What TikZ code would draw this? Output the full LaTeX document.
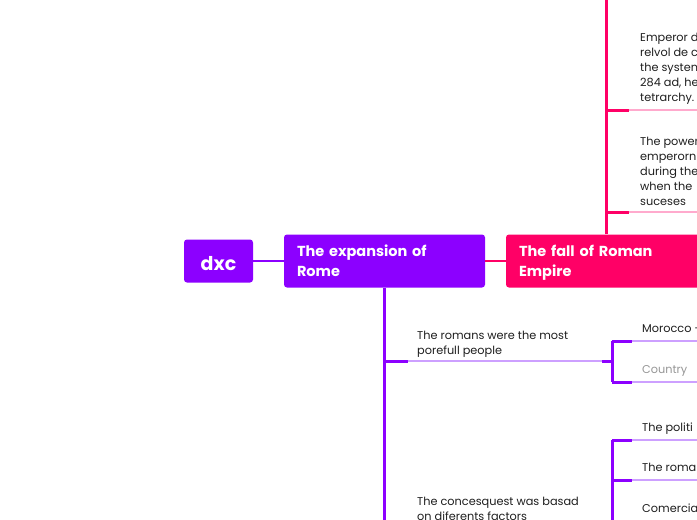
\documentclass[tikz,border=0pt]{standalone}
\usepackage{fontspec}
\setmainfont{Poppins}
\usetikzlibrary{positioning}
\definecolor{mapviolet}{RGB}{140,0,255}
\definecolor{mappink}{RGB}{255,0,102}
\definecolor{paleviolet}{RGB}{205,160,255}
\definecolor{palepink}{RGB}{255,170,205}
\definecolor{inkgrey}{RGB}{30,30,30}
\definecolor{hintgrey}{RGB}{150,150,150}
\tikzset{
  rootbox/.style={fill=mapviolet, rounded corners=3pt, text=white, inner sep=0pt,
    minimum width=69pt, minimum height=43pt, text height=18pt, text depth=0pt,
    font=\fontsize{19}{22}\selectfont\bfseries},
  topicbox/.style={rounded corners=3pt, text=white, text width=175pt, align=left,
    inner xsep=13pt, inner ysep=0pt, minimum height=53pt,
    font=\fontsize{14.5}{20}\selectfont\bfseries},
  notetext/.style={anchor=south west, inner sep=0pt, text=inkgrey, align=left,
    font=\fontsize{11.3}{15}\selectfont},
  stem/.style={line width=3pt},
  twig/.style={line width=1.2pt},
}

\begin{document}
\begin{tikzpicture}[x=1pt, y=-1pt]
  \clip (0,0) rectangle (697,520);

  \node[rootbox] (dxc) at (218.5,261) {dxc};
  \node[topicbox, fill=mapviolet] (rome) at (384.5,261) {The expansion of\\Rome};
  \node[topicbox, fill=mappink] (fall) at (606.5,261)
    {The fall of Roman\\\raisebox{0pt}[\height][0pt]{Empire}};
  \draw[mapviolet, line width=2pt] (dxc) -- (rome);
  \draw[mappink, line width=2pt] (rome) -- (fall);

  % the fall: branches going up
  \coordinate (falltop) at (606.5,-5);
  \coordinate (f1) at (606.5,110);
  \coordinate (f2) at (606.5,212);
  \draw[mappink, stem] (fall.north) -- (falltop);
  \draw[mappink, stem] (f1) -- ++(22,0) coordinate (f1e);
  \draw[mappink, stem] (f2) -- ++(22,0) coordinate (f2e);
  \draw[palepink, twig] (f1e) -- ++(90,0);
  \draw[palepink, twig] (f2e) -- ++(90,0);
  \node[notetext] (emperor) at (640,106.5)
    {Emperor d\\relvol de c\\the systen\\284 ad, he\\tetrarchy.\strut};
  \node[notetext] (power) at (640,210)
    {The power\\emperornl\\during the\\when the\\suceses\strut};

  % the expansion: branches going down
  \coordinate (r1) at (384.5,361);
  \coordinate (r2) at (384.5,527);
  \draw[mapviolet, stem] (rome.south) -- (r2);
  \draw[mapviolet, stem] (r1) -- ++(23,0) coordinate (r1e);
  \draw[paleviolet, twig] (r1e) -- (602,361) coordinate (k1);
  \draw[mapviolet, stem] (k1) -- ++(10,0) coordinate (k1b);
  \node[notetext] (romans) at (417,359.5) {The romans were the most\\porefull people\strut};
  \node[notetext] (factors) at (417,525.5) {The concesquest was basad\\on diferents factors\strut};

  % first bracket
  \coordinate (m1) at (612,341);
  \coordinate (m2) at (612,382);
  \draw[mapviolet, stem] (m1) -- (m2);
  \draw[mapviolet, stem] (m1) -- ++(20,0) coordinate (m1e);
  \draw[mapviolet, stem] (m2) -- ++(20,0) coordinate (m2e);
  \draw[paleviolet, twig] (m1e) -- ++(70,0);
  \draw[paleviolet, twig] (m2e) -- ++(70,0);
  \node[notetext] (morocco) at (642,337.5) {Morocco -\strut};
  \node[notetext, text=hintgrey] (country) at (642,378.5) {Country\strut};

  % second bracket
  \coordinate (n1) at (612,440);
  \coordinate (n2) at (612,480);
  \coordinate (n3) at (612,521);
  \draw[mapviolet, stem] (n1) -- (612,530);
  \draw[mapviolet, stem] (n1) -- ++(20,0) coordinate (n1e);
  \draw[mapviolet, stem] (n2) -- ++(20,0) coordinate (n2e);
  \draw[mapviolet, stem] (n3) -- ++(20,0) coordinate (n3e);
  \draw[paleviolet, twig] (n1e) -- ++(70,0);
  \draw[paleviolet, twig] (n2e) -- ++(70,0);
  \draw[paleviolet, twig] (n3e) -- ++(70,0);
  \node[notetext] (politi) at (642,436.5) {The politi\strut};
  \node[notetext] (roma) at (642,476.5) {The roma\strut};
  \node[notetext] (comercia) at (642,517.5) {Comercia\strut};
\end{tikzpicture}
\end{document}
